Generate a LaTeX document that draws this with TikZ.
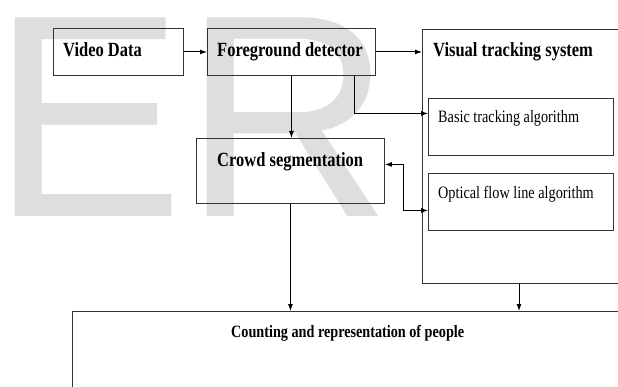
\documentclass[tikz,border=0pt]{standalone}
\usepackage{fontspec}
\usepackage{graphicx}
\usepackage{tikz}
\usetikzlibrary{arrows.meta}
\setmainfont{Liberation Serif}
\newfontfamily\wmfont{Liberation Sans}
\newcommand{\tallText}[1]{\scalebox{1}[1.22]{#1}}

\begin{document}
\begin{tikzpicture}[x=1pt,y=-1pt,>={Latex[length=7pt,width=5pt]}]
		\tikzstyle{box}=[draw=black!80,line width=0.9pt,shape=rectangle,anchor=north west,inner sep=0pt]
		\tikzstyle{title}=[anchor=base west,inner sep=0pt,font=\bfseries\fontsize{16.5}{18}\selectfont]
		\tikzstyle{sub}=[anchor=base west,inner sep=0pt,font=\fontsize{14.25}{16}\selectfont]
		\tikzstyle{link}=[line width=0.9pt]

		\useasboundingbox (0,0) rectangle (618,387);
		\clip (0,0) rectangle (618,387);

		% watermark
		\node[anchor=base west,inner sep=0pt,text=black!13,font=\wmfont\fontsize{289}{289}\selectfont](wm) at (-9,217){ER};

		\node[box,minimum width=130pt,minimum height=47pt](video) at (53,28){};
		\node[box,minimum width=168pt,minimum height=47pt](fg) at (207,28){};
		\node[box,minimum width=188pt,minimum height=65pt](cs) at (196,138){};
		\node[box,minimum width=230pt,minimum height=254pt](vts) at (422,29){};
		\node[box,minimum width=185pt,minimum height=57pt](basic) at (428,98){};
		\node[box,minimum width=185pt,minimum height=57pt](ofl) at (428,173){};
		\node[box,minimum width=600pt,minimum height=120pt](count) at (72,311){};

		\node[title](videoT) at (63,57){\tallText{Video Data}};
		\node[title](fgT) at (217,57){\tallText{Foreground detector}};
		\node[title](csT) at (217,167){\tallText{Crowd segmentation}};
		\node[title](vtsT) at (433,57){\tallText{Visual tracking system}};
		\node[sub](basicT) at (438,123){\tallText{Basic tracking algorithm}};
		\node[sub](oflT) at (438,199){\tallText{Optical flow line algorithm}};
		\node[title,font=\bfseries\fontsize{14.2}{16}\selectfont](countT) at (231,337){\tallText{Counting and representation of people}};

		\draw[link,->] (video) -- (fg);
		\draw[link,->] (fg.east) -- (fg.east -| vts.west);
		\draw[link,->] ([xshift=-21pt]fg.south east) |- ([yshift=13.5pt]basic.west);
		\draw[link,->] (fg.south) -- (fg.south |- cs.north);
		\draw[link,<->] ([yshift=6.5pt]cs.east) -- ++(19,0) |- ([yshift=-8.5pt]ofl.west);
		\draw[link,->] (cs.south) -- (cs.south |- count.north);
		\draw[link,->] ([xshift=97pt]vts.south west) -- ([xshift=97pt]vts.south west |- count.north);
	\end{tikzpicture}
\end{document}
